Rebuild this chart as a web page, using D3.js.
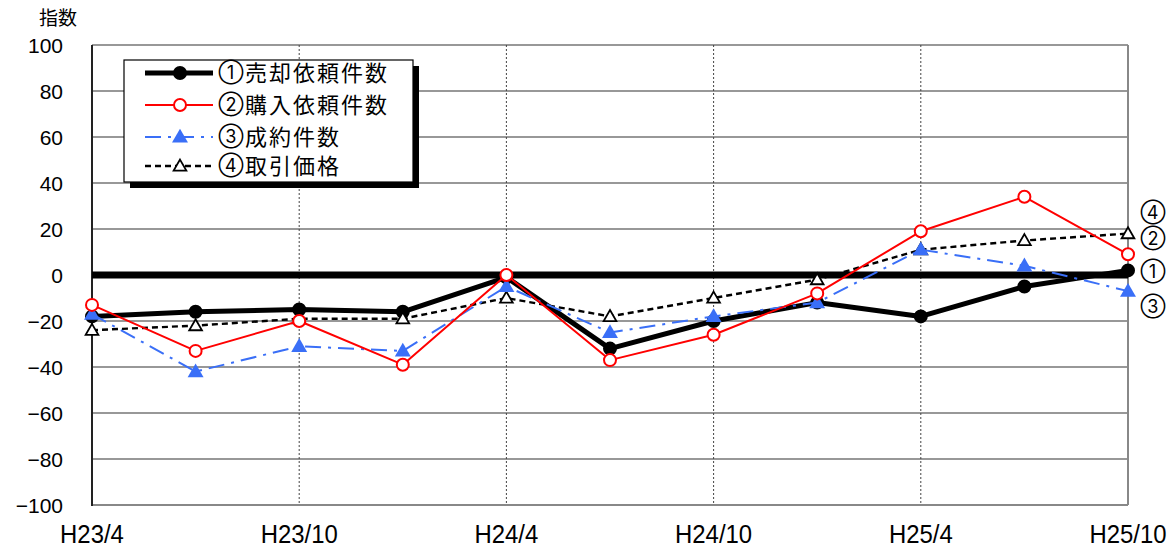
<!DOCTYPE html>
<html>
<head>
<meta charset="utf-8">
<script src="https://cdn.jsdelivr.net/npm/d3@7"></script>
<style>
  html, body { margin: 0; padding: 0; background: #fff; }
  svg { display: block; }
  .num { font-family: "Liberation Sans", Arial, sans-serif; fill: #000; }
  .jp { font-family: "Noto Sans CJK JP", sans-serif; fill: #000; }
  .circ { font-family: "Inter", "Noto Sans CJK JP", sans-serif; fill: #000; }
</style>
</head>
<body>
<svg id="chart" width="1175" height="550"></svg>
<script>
// Quarterly periods
const periods = ["H23/4", "H23/7", "H23/10", "H24/1", "H24/4", "H24/7", "H24/10", "H25/1", "H25/4", "H25/7", "H25/10"];
const periodLabels = ["H23/4", "H23/10", "H24/4", "H24/10", "H25/4", "H25/10"];

// Index values per series
const sellRequests = [-18, -16, -15, -16, -1, -32, -20, -12, -18, -5, 2];
const buyRequests = [-13, -33, -20, -39, 0, -37, -26, -8, 19, 34, 9];
const contracts = [-17, -42, -31, -33, -5, -25, -18, -12, 11, 4, -7];
const prices = [-24, -22, -19, -19, -10, -18, -10, -2, 11, 15, 18];

const seriesMarks = ["①", "②", "③", "④"];
const seriesNames = ["売却依頼件数", "購入依頼件数", "成約件数", "取引価格"];
const yTicks = [100, 80, 60, 40, 20, 0, -20, -40, -60, -80, -100];

const svg = d3.select("#chart");
const plotL = 92, plotR = 1128, plotT = 45, plotB = 505;

const x = d3.scalePoint().domain(periods).range([plotL, plotR]);
const y = d3.scaleLinear().domain([-100, 100]).range([plotB, plotT]);

// horizontal gridlines
svg.append("g").selectAll("line").data(yTicks.filter(v => v !== 0 && v !== -100)).join("line")
  .attr("x1", plotL).attr("x2", plotR)
  .attr("y1", d => y(d)).attr("y2", d => y(d))
  .attr("stroke", "#333").attr("stroke-width", 1.2);

// vertical dotted gridlines
svg.append("g").selectAll("line").data(periodLabels.slice(1, -1)).join("line")
  .attr("x1", d => x(d)).attr("x2", d => x(d))
  .attr("y1", plotT).attr("y2", plotB)
  .attr("stroke", "#444").attr("stroke-width", 1).attr("stroke-dasharray", "2,2");

// frame
svg.append("line").attr("x1", plotL).attr("x2", plotR).attr("y1", plotB).attr("y2", plotB)
  .attr("stroke", "#888").attr("stroke-width", 2);
svg.append("line").attr("x1", plotR).attr("x2", plotR).attr("y1", plotT).attr("y2", plotB)
  .attr("stroke", "#888").attr("stroke-width", 2);
svg.append("line").attr("x1", plotL).attr("x2", plotL).attr("y1", plotT).attr("y2", plotB + 1)
  .attr("stroke", "#222").attr("stroke-width", 2);

// y axis labels
svg.append("g").selectAll("text").data(yTicks).join("text")
  .attr("class", "num")
  .attr("x", 63).attr("y", d => y(d))
  .attr("dy", "0.36em")
  .attr("text-anchor", "end")
  .attr("font-size", 21)
  .text(d => d < 0 ? "\u2212" + Math.abs(d) : d);

svg.append("text").attr("class", "jp")
  .attr("x", 58).attr("y", 25).attr("text-anchor", "middle")
  .attr("font-size", 19).text("指数");

// x axis labels
svg.append("g").selectAll("text").data(periodLabels).join("text")
  .attr("class", "num")
  .attr("x", d => x(d)).attr("y", 543)
  .attr("text-anchor", "middle")
  .attr("font-size", 26)
  .attr("transform", d => `translate(${x(d)},0) scale(0.92,1) translate(${-x(d)},0)`)
  .text(d => d);

// thick zero line
svg.append("line").attr("x1", plotL).attr("x2", plotR).attr("y1", y(0)).attr("y2", y(0))
  .attr("stroke", "#000").attr("stroke-width", 7);

const styles = [
  { color: "#000", width: 5, dash: null, marker: "circle", fill: "#000", size: 6 },
  { color: "#ff0000", width: 2, dash: null, marker: "circle", fill: "#fff", size: 6 },
  { color: "#3a6ff7", width: 2, dash: "16,7,3,7", marker: "triangle", fill: "#3a6ff7", size: 110 },
  { color: "#000", width: 2.4, dash: "6,4", marker: "triangle", fill: "#fff", size: 70 }
];
const data = [sellRequests, buyRequests, contracts, prices];

const line = d3.line().x((d, i) => x(periods[i])).y(d => y(d));

function drawMarker(g, s, cx, cy) {
  if (s.marker === "circle") {
    g.append("circle").attr("cx", cx).attr("cy", cy).attr("r", s.size)
      .attr("fill", s.fill).attr("stroke", s.color).attr("stroke-width", 2);
  } else {
    g.append("path").attr("d", d3.symbol(d3.symbolTriangle, s.size)())
      .attr("transform", `translate(${cx},${cy + 1})`)
      .attr("fill", s.fill).attr("stroke", s.color)
      .attr("stroke-width", s.fill === "#fff" ? 1.8 : 0);
  }
}

const drawOrder = [0, 3, 2, 1];
drawOrder.forEach(k => {
  const s = styles[k];
  const g = svg.append("g");
  g.append("path").datum(data[k]).attr("d", line)
    .attr("fill", "none").attr("stroke", s.color).attr("stroke-width", s.width)
    .attr("stroke-dasharray", s.dash).attr("stroke-linejoin", "round");
  data[k].forEach((v, i) => drawMarker(g, s, x(periods[i]), y(v)));
});

// end-of-line labels
const endY = [272, 239, 307, 213];
svg.append("g").selectAll("text").data(seriesMarks).join("text")
  .attr("class", "circ")
  .attr("x", 1153).attr("y", (d, i) => endY[i])
  .attr("dy", "0.36em").attr("text-anchor", "middle")
  .attr("font-size", 18).text(d => d);

// legend
const lg = svg.append("g");
lg.append("rect").attr("x", 130).attr("y", 66).attr("width", 289).attr("height", 122).attr("fill", "#000");
lg.append("rect").attr("x", 124).attr("y", 60).attr("width", 289).attr("height", 122)
  .attr("fill", "#fff").attr("stroke", "#000").attr("stroke-width", 1.2);
const rowY = [73, 105, 137, 166];
seriesNames.forEach((name, k) => {
  const s = styles[k];
  const ry = rowY[k];
  lg.append("line").attr("x1", 145).attr("x2", 213).attr("y1", ry).attr("y2", ry)
    .attr("stroke", s.color).attr("stroke-width", s.width).attr("stroke-dasharray", s.dash);
  drawMarker(lg, s, 180, ry);
  lg.append("text").attr("class", "circ").attr("x", 231).attr("y", ry)
    .attr("dy", "0.36em").attr("text-anchor", "middle").attr("font-size", 18).text(seriesMarks[k]);
  lg.append("text").attr("class", "jp").attr("x", 245).attr("y", ry)
    .attr("dy", "0.36em").attr("font-size", 22).attr("letter-spacing", 2).text(name);
});
</script>
</body>
</html>
